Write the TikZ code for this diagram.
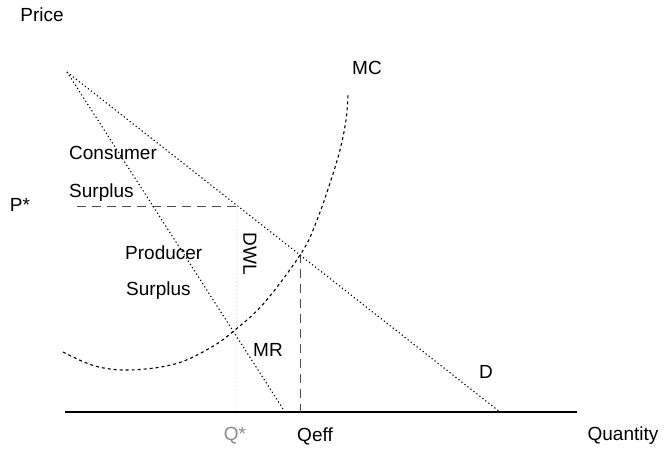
\documentclass[tikz,border=0pt]{standalone}
\usepackage{fontspec}
\setmainfont{Liberation Sans}
\begin{document}
\begin{tikzpicture}[x=1pt,y=-1pt,
  lbl/.style={inner sep=0pt,font=\fontsize{19}{21}\selectfont},
  curveline/.style={line width=1.1pt,dash pattern=on 1.2pt off 2.6pt},
  mcline/.style={line width=1.1pt,dash pattern=on 3pt off 3pt},
  guide/.style={line width=0.9pt,dash pattern=on 9pt off 6pt,black!70},
  faint/.style={line width=0.8pt,dash pattern=on 1pt off 3pt,black!15},
  axisline/.style={line width=1.6pt}]
\useasboundingbox (0,0) rectangle (665,449);
% coordinates
\coordinate (top) at (67,72);
\coordinate (dend) at (500,412);
\coordinate (mrend) at (285,412);
\coordinate (ax0) at (65,412);
\coordinate (ax1) at (577,412);
\coordinate (pl) at (77,206);
\coordinate (pr) at (237,206);
\coordinate (eq) at (300,254);
\coordinate (eqb) at (300,412);
\coordinate (qmb) at (236,412);
% axis
\draw[axisline] (ax0) -- (ax1);
% demand and MR
\draw[curveline] (top) -- (dend);
\draw[curveline] (top) -- (mrend);
% MC
\draw[mcline] plot[smooth,tension=0.6] coordinates {(63,352) (95,366) (130,370) (175,364) (210,348) (235,330) (265,302) (302,252) (317,220) (330,183) (340,150) (346,120) (348,95)};
% guides
\draw[guide] (pl) -- (pr);
\draw[guide] (eq) -- (eqb);
\draw[faint] (pr) -- (qmb);
% labels
\node[lbl] (price) at (42,15) {Price};
\node[lbl] (mc) at (367,68) {MC};
\node[lbl,anchor=west] (cons) at (69,153) {Consumer};
\node[lbl,anchor=west] (csur) at (69,193) {Surplus};
\node[lbl] (pstar) at (20,205) {P*};
\node[lbl,anchor=west] (prod) at (125,253) {Producer};
\node[lbl,anchor=west] (psur) at (126,291) {Surplus};
\node[lbl,rotate=-90] (dwl) at (250,254) {DWL};
\node[lbl] (mr) at (268,350) {MR};
\node[lbl] (d) at (486,372) {D};
\node[lbl] (qty) at (623,436) {Quantity};
\node[lbl,text=black!45] (qm) at (235,436) {Q*};
\node[lbl] (qeff) at (315,436) {Qeff};
\end{tikzpicture}
\end{document}
